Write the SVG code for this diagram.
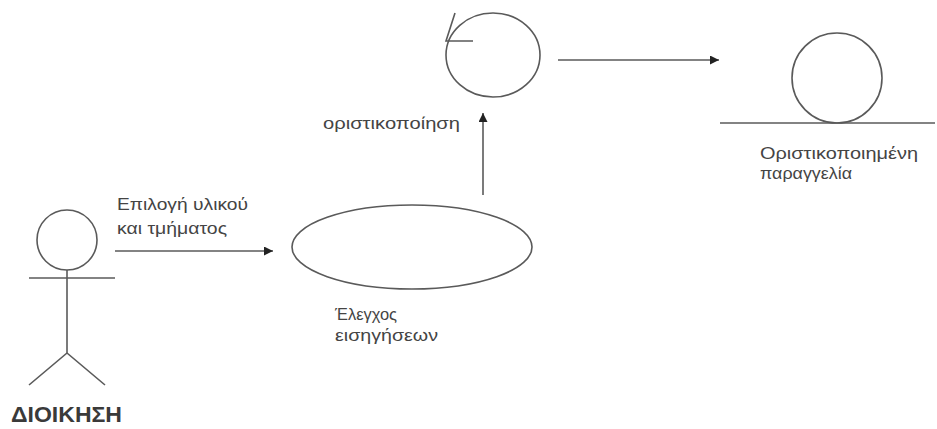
<svg xmlns="http://www.w3.org/2000/svg" width="937" height="429" viewBox="0 0 937 429">
  <style>
    .ln { fill: none; stroke: #5a5a5a; stroke-width: 1.6; }
    .lbl { font-family: "Liberation Sans", Arial, sans-serif; font-size: 17px; fill: #444; }
    .big { font-family: "Liberation Sans", Arial, sans-serif; font-size: 22px; font-weight: bold; fill: #3a3a3a; }
  </style>
  <defs>
    <marker id="arr" viewBox="0 0 10 10" refX="10" refY="5" markerWidth="9" markerHeight="9" markerUnits="userSpaceOnUse" orient="auto">
      <path d="M0,0 L10,5 L0,10 z" fill="#222"/>
    </marker>
  </defs>
  <rect width="937" height="429" fill="#fff"/>

  <!-- actor -->
  <g id="actor">
    <circle class="ln" cx="67" cy="240" r="30"/>
    <line class="ln" x1="29" y1="278" x2="115" y2="278"/>
    <line class="ln" x1="67" y1="270" x2="67" y2="353"/>
    <line class="ln" x1="67" y1="353" x2="29" y2="385"/>
    <line class="ln" x1="67" y1="353" x2="105" y2="385"/>
    <text class="big" x="11" y="422" textLength="111" lengthAdjust="spacingAndGlyphs">ΔΙΟΙΚΗΣΗ</text>
  </g>

  <!-- use case -->
  <g id="usecase">
    <ellipse class="ln" cx="412" cy="247" rx="120" ry="42"/>
    <text class="lbl" x="335" y="320" textLength="62" lengthAdjust="spacingAndGlyphs">Έλεγχος</text>
    <text class="lbl" x="335" y="341" textLength="103" lengthAdjust="spacingAndGlyphs">εισηγήσεων</text>
  </g>

  <!-- control object -->
  <g id="control">
    <ellipse class="ln" cx="493" cy="55" rx="47" ry="42"/>
    <polyline class="ln" points="455,13 446,41 473,41"/>
  </g>

  <!-- entity -->
  <g id="entity">
    <circle class="ln" cx="837" cy="78" r="45"/>
    <line class="ln" x1="720" y1="123" x2="935" y2="123"/>
    <text class="lbl" x="760" y="159" textLength="158" lengthAdjust="spacingAndGlyphs">Οριστικοποιημένη</text>
    <text class="lbl" x="760" y="179" textLength="92" lengthAdjust="spacingAndGlyphs">παραγγελία</text>
  </g>

  <!-- connectors -->
  <g id="connectors">
    <line class="ln" x1="115" y1="251" x2="273" y2="251" marker-end="url(#arr)"/>
    <text class="lbl" x="117" y="210" textLength="131" lengthAdjust="spacingAndGlyphs">Επιλογή υλικού</text>
    <text class="lbl" x="117" y="234" textLength="110" lengthAdjust="spacingAndGlyphs">και τμήματος</text>
    <line class="ln" x1="483" y1="195" x2="483" y2="113" marker-end="url(#arr)"/>
    <text class="lbl" x="323" y="129" textLength="137" lengthAdjust="spacingAndGlyphs">οριστικοποίηση</text>
    <line class="ln" x1="558" y1="60" x2="719" y2="60" marker-end="url(#arr)"/>
  </g>
</svg>
